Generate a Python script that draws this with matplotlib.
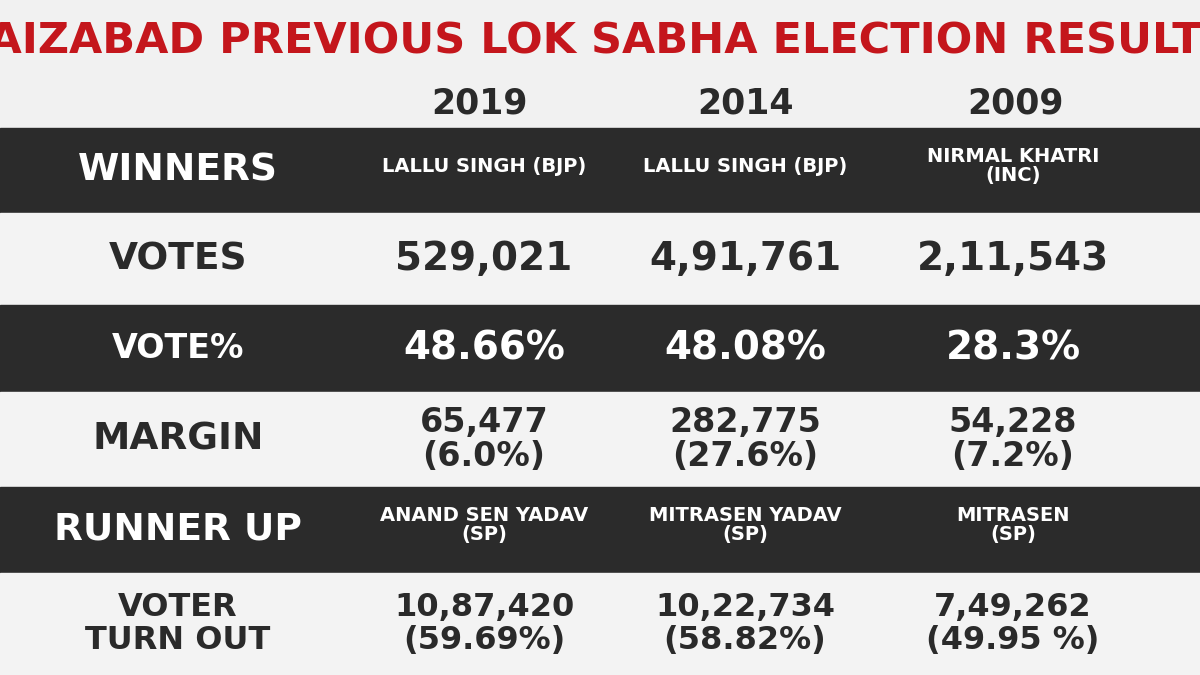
import matplotlib
matplotlib.use("Agg")
import matplotlib.pyplot as plt
from matplotlib.patches import Rectangle

title = "FAIZABAD PREVIOUS LOK SABHA ELECTION RESULTS"
years = ["2019", "2014", "2009"]
row_labels = ["WINNERS", "VOTES", "VOTE%", "MARGIN", "RUNNER UP", "VOTER\nTURN OUT"]
winners = ["LALLU SINGH (BJP)", "LALLU SINGH (BJP)", "NIRMAL KHATRI\n(INC)"]
votes = ["529,021", "4,91,761", "2,11,543"]
vote_pct = ["48.66%", "48.08%", "28.3%"]
margins = ["65,477\n(6.0%)", "282,775\n(27.6%)", "54,228\n(7.2%)"]
runner_up = ["ANAND SEN YADAV\n(SP)", "MITRASEN YADAV\n(SP)", "MITRASEN\n(SP)"]
turnout = ["10,87,420\n(59.69%)", "10,22,734\n(58.82%)", "7,49,262\n(49.95 %)"]

rows = [winners, votes, vote_pct, margins, runner_up, turnout]
row_small = [True, False, False, False, True, False]
row_bounds = [(128, 213), (213, 305), (305, 392), (392, 487), (487, 573), (573, 675)]
dark = [True, False, True, False, True, False]
col_x = [484, 745, 1013]
year_x = [480, 745, 1015]
label_x = 178
value_size = [14, 28, 28, 24, 14, 23]
label_size = [27, 27, 24, 27, 27, 23]
FONT = "DejaVu Sans"

fig = plt.figure(figsize=(12, 6.75), dpi=100)
ax = fig.add_axes([0, 0, 1, 1])
ax.set_xlim(0, 1200)
ax.set_ylim(675, 0)
ax.axis("off")
ax.add_patch(Rectangle((0, 0), 1200, 675, color="#f1f1f1", zorder=0))

ax.text(598, 42, title, ha="center", va="center", color="#c4161c",
        fontsize=31, fontweight="heavy", family=FONT)
for x, y in zip(year_x, years):
    ax.text(x, 104, y, ha="center", va="center", fontsize=25,
            fontweight="bold", family=FONT, color="#2a2a2a")

for i, (y0, y1) in enumerate(row_bounds):
    bg = "#2b2b2b" if dark[i] else "#f3f3f3"
    fg = "white" if dark[i] else "#2a2a2a"
    ax.add_patch(Rectangle((0, y0), 1200, y1 - y0, color=bg, zorder=1))
    yc = (y0 + y1) / 2
    ax.text(label_x, yc, row_labels[i], ha="center", va="center", fontsize=label_size[i],
            fontweight="bold", family=FONT, color=fg, linespacing=1.05, zorder=2)
    for x, v in zip(col_x, rows[i]):
        ty = y0 + 38 if row_small[i] else yc
        ax.text(x, ty, v, ha="center", va="center",
                fontsize=value_size[i], fontweight="bold", family=FONT,
                color=fg, linespacing=1.05, zorder=2)

fig.savefig("out.png", dpi=100)
